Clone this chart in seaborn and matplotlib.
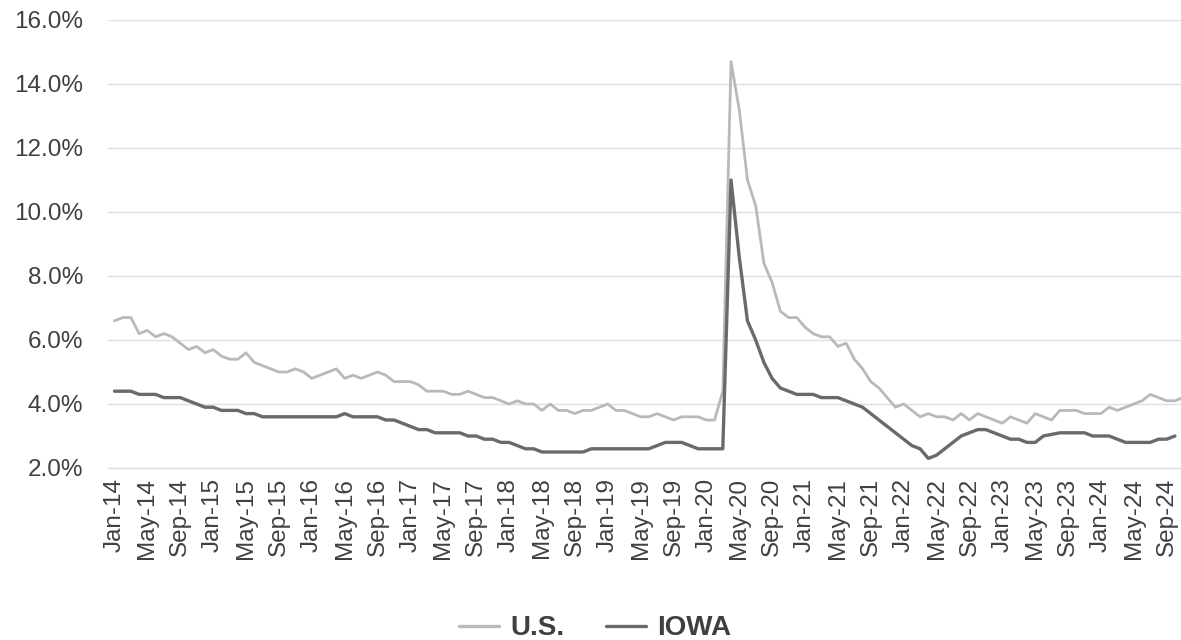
import matplotlib
matplotlib.use("Agg")
import matplotlib.pyplot as plt
from matplotlib.lines import Line2D
import numpy as np
import pandas as pd
import seaborn as sns

# Monthly unemployment rates (%), Jan-14 onward
us_rate = [
    6.6, 6.7, 6.7, 6.2, 6.3, 6.1, 6.2, 6.1, 5.9, 5.7, 5.8, 5.6,   # 2014
    5.7, 5.5, 5.4, 5.4, 5.6, 5.3, 5.2, 5.1, 5.0, 5.0, 5.1, 5.0,   # 2015
    4.8, 4.9, 5.0, 5.1, 4.8, 4.9, 4.8, 4.9, 5.0, 4.9, 4.7, 4.7,   # 2016
    4.7, 4.6, 4.4, 4.4, 4.4, 4.3, 4.3, 4.4, 4.3, 4.2, 4.2, 4.1,   # 2017
    4.0, 4.1, 4.0, 4.0, 3.8, 4.0, 3.8, 3.8, 3.7, 3.8, 3.8, 3.9,   # 2018
    4.0, 3.8, 3.8, 3.7, 3.6, 3.6, 3.7, 3.6, 3.5, 3.6, 3.6, 3.6,   # 2019
    3.5, 3.5, 4.4, 14.7, 13.2, 11.0, 10.2, 8.4, 7.8, 6.9, 6.7, 6.7,  # 2020
    6.4, 6.2, 6.1, 6.1, 5.8, 5.9, 5.4, 5.1, 4.7, 4.5, 4.2, 3.9,   # 2021
    4.0, 3.8, 3.6, 3.7, 3.6, 3.6, 3.5, 3.7, 3.5, 3.7, 3.6, 3.5,   # 2022
    3.4, 3.6, 3.5, 3.4, 3.7, 3.6, 3.5, 3.8, 3.8, 3.8, 3.7, 3.7,   # 2023
    3.7, 3.9, 3.8, 3.9, 4.0, 4.1, 4.3, 4.2, 4.1, 4.1, 4.2,        # 2024
]

iowa_rate = [
    4.4, 4.4, 4.4, 4.3, 4.3, 4.3, 4.2, 4.2, 4.2, 4.1, 4.0, 3.9,   # 2014
    3.9, 3.8, 3.8, 3.8, 3.7, 3.7, 3.6, 3.6, 3.6, 3.6, 3.6, 3.6,   # 2015
    3.6, 3.6, 3.6, 3.6, 3.7, 3.6, 3.6, 3.6, 3.6, 3.5, 3.5, 3.4,   # 2016
    3.3, 3.2, 3.2, 3.1, 3.1, 3.1, 3.1, 3.0, 3.0, 2.9, 2.9, 2.8,   # 2017
    2.8, 2.7, 2.6, 2.6, 2.5, 2.5, 2.5, 2.5, 2.5, 2.5, 2.6, 2.6,   # 2018
    2.6, 2.6, 2.6, 2.6, 2.6, 2.6, 2.7, 2.8, 2.8, 2.8, 2.7, 2.6,   # 2019
    2.6, 2.6, 2.6, 11.0, 8.6, 6.6, 6.0, 5.3, 4.8, 4.5, 4.4, 4.3,  # 2020
    4.3, 4.3, 4.2, 4.2, 4.2, 4.1, 4.0, 3.9, 3.7, 3.5, 3.3, 3.1,   # 2021
    2.9, 2.7, 2.6, 2.3, 2.4, 2.6, 2.8, 3.0, 3.1, 3.2, 3.2, 3.1,   # 2022
    3.0, 2.9, 2.9, 2.8, 2.8, 3.0, 3.05, 3.1, 3.1, 3.1, 3.1, 3.0,  # 2023
    3.0, 3.0, 2.9, 2.8, 2.8, 2.8, 2.8, 2.9, 2.9, 3.0,             # 2024
]

month_labels = pd.date_range("2014-01-01", periods=len(us_rate), freq="MS").strftime("%b-%y").tolist()
series_names = ["U.S.", "IOWA"]
series_colors = {"U.S.": "#b9b9b9", "IOWA": "#6a6a6a"}
y_ticks = [2, 4, 6, 8, 10, 12, 14, 16]

df = pd.concat([
    pd.DataFrame({"month": np.arange(len(us_rate)), "rate": us_rate, "series": "U.S."}),
    pd.DataFrame({"month": np.arange(len(iowa_rate)), "rate": iowa_rate, "series": "IOWA"}),
], ignore_index=True)

sns.set_theme(style="white")
plt.rcParams["font.family"] = ["Liberation Sans", "DejaVu Sans"]

W, H = 1181, 640
fig = plt.figure(figsize=(W / 100, H / 100), dpi=100)
ax = fig.add_axes([108 / W, (H - 468) / H, (W - 108) / W, 448 / H])

sns.lineplot(data=df[df.series == "U.S."], x="month", y="rate", color=series_colors["U.S."],
             linewidth=2.0, ax=ax, legend=False, zorder=3)
sns.lineplot(data=df[df.series == "IOWA"], x="month", y="rate", color=series_colors["IOWA"],
             linewidth=2.4, ax=ax, legend=False, zorder=4)

ax.set_xlim(-0.79, 129.74)
ax.set_ylim(2, 16)
ax.set_yticks(y_ticks)
ax.set_yticklabels([f"{v:.1f}%" for v in y_ticks])
ax.set_xticks(np.arange(0, len(month_labels), 4))
ax.set_xticklabels(month_labels[::4], rotation=90)
ax.set_xlabel("")
ax.set_ylabel("")

ax.grid(axis="y", color="#e0e0e0", linewidth=1.0)
ax.grid(axis="x", visible=False)
for side in ["top", "right", "left"]:
    ax.spines[side].set_visible(False)
ax.spines["bottom"].set_color("#e0e0e0")
ax.spines["bottom"].set_linewidth(1.0)

ax.tick_params(axis="y", length=0, pad=18, labelsize=17.5, labelcolor="#404040")
ax.tick_params(axis="x", length=0, pad=7, labelsize=17.5, labelcolor="#404040")

handles = [Line2D([0], [0], color=series_colors[n], linewidth=2.4) for n in series_names]
leg = fig.legend(handles, series_names, loc="center", bbox_to_anchor=(0.504, 0.018),
                 ncol=2, frameon=False, handlelength=1.45, handletextpad=0.4,
                 columnspacing=1.5, borderpad=0,
                 prop={"weight": "bold", "size": 20})
for t in leg.get_texts():
    t.set_color("#3f3f3f")

fig.savefig("out.png", dpi=100, facecolor="white")
